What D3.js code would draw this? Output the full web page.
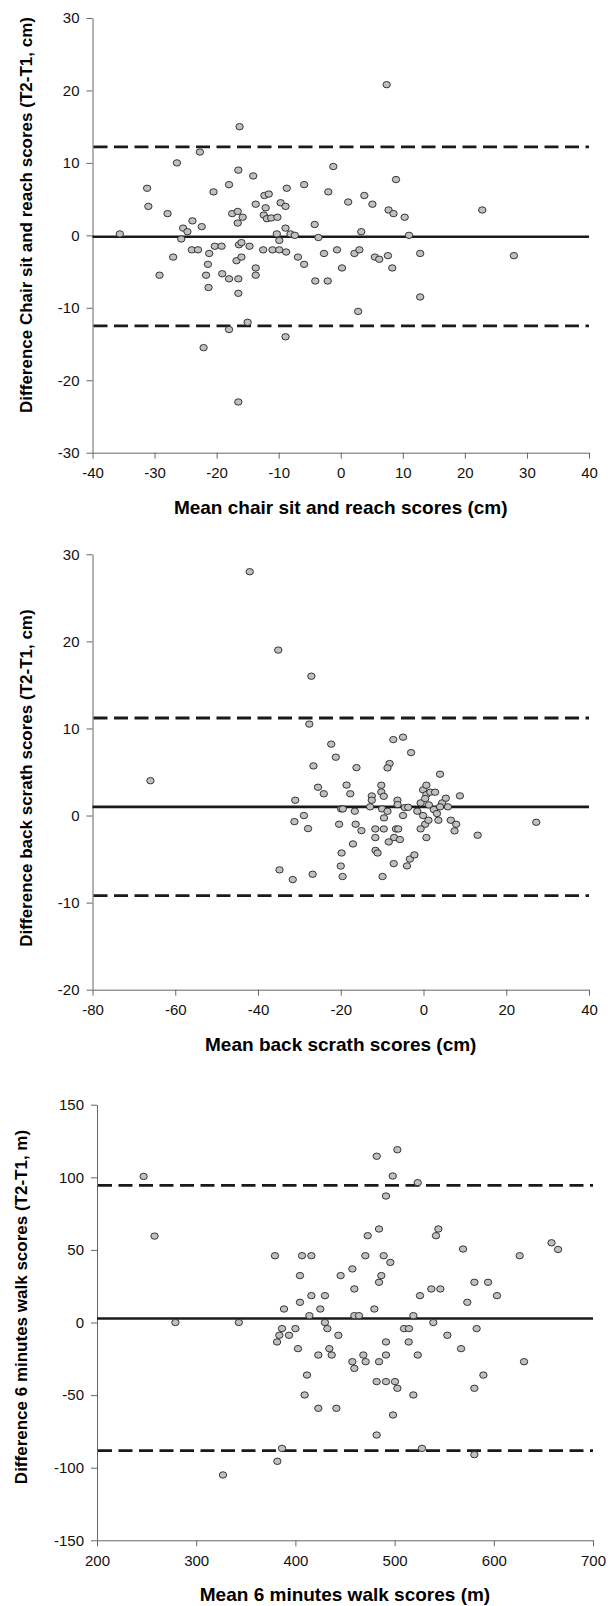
<!DOCTYPE html>
<html>
<head>
<meta charset="utf-8">
<script src="https://cdn.jsdelivr.net/npm/d3@7"></script>
<style>
  body { margin: 0; background: #fff; }
  svg { display: block; }
  .tick text { font-family: "Liberation Sans", Arial, sans-serif; font-size: 15px; fill: #111; }
  .title { font-family: "Liberation Sans", Arial, sans-serif; font-weight: bold; fill: #000; }
</style>
</head>
<body>
<div class="chart"></div>
<script>
// chair sit and reach: [mean, difference]
const chairPoints = [
  [-35.6, 0.2], [-22.7, 11.5], [-26.4, 10.0], [-31.2, 6.5], [-31.0, 4.0], [-27.9, 3.0],
  [-23.9, 2.0], [-25.4, 1.0], [-24.7, 0.5], [-25.7, -0.5], [-22.4, 1.2], [-27.0, -3.0],
  [-29.2, -5.5], [-24.0, -2.0], [-23.0, -2.0], [-21.2, -2.5], [-21.4, -4.0], [-21.7, -5.5],
  [-21.3, -7.2], [-20.3, -1.5], [-19.2, -1.5], [-20.5, 6.0], [-18.0, 7.0], [-19.1, -5.3],
  [-18.0, -6.0], [-16.5, -6.0], [-16.5, -8.0], [-16.8, -3.5], [-16.0, -3.0], [-16.4, -1.3],
  [-16.0, -1.0], [-14.7, -1.5], [-16.5, 9.0], [-14.1, 8.2], [-17.5, 3.0], [-16.6, 3.3],
  [-15.8, 2.5], [-16.6, 1.7], [-13.7, 4.3], [-13.7, -4.5], [-13.7, -5.5], [-12.3, 5.5],
  [-11.6, 5.7], [-12.1, 3.8], [-12.4, 2.8], [-11.9, 2.3], [-11.2, 2.4], [-10.2, 2.5],
  [-12.5, -2.0], [-11.0, -2.0], [-9.9, -2.0], [-9.7, 4.5], [-8.9, 4.0], [-8.7, 6.5],
  [-10.3, 0.2], [-9.9, -0.7], [-8.9, 1.0], [-8.1, 0.2], [-7.4, 0.0], [-8.8, -2.3],
  [-6.9, -3.0], [-5.9, -4.0], [-5.9, 7.0], [-4.2, 1.5], [-3.6, -0.3], [-4.1, -6.3],
  [-2.7, -2.5], [-2.1, -6.3], [-2.0, 6.0], [-1.2, 9.5], [-0.6, -2.0], [0.2, -4.5],
  [1.2, 4.6], [3.8, 5.5], [5.1, 4.3], [8.9, 7.7], [7.7, 3.5], [8.5, 3.0], [10.3, 2.5],
  [22.8, 3.5], [3.3, 0.5], [11.0, 0.0], [2.2, -2.5], [3.0, -2.0], [5.5, -3.0], [6.2, -3.3],
  [7.6, -2.8], [12.8, -2.5], [27.9, -2.8], [8.3, -4.5], [12.8, -8.5], [2.8, -10.5],
  [-22.1, -15.5], [-18.0, -13.0], [-15.0, -12.0], [-8.9, -14.0], [-16.5, -23.0],
  [-16.3, 15.0], [7.4, 20.8]
];
const chairLines = { mean: -0.2, upper: 12.2, lower: -12.5 };

// back scratch: [mean, difference]
const backPoints = [
  [-66.0, 4.0], [-42.0, 28.0], [-35.1, 19.0], [-27.1, 16.0],
  [-27.6, 10.5], [-22.3, 8.2], [-21.2, 6.7], [-26.6, 5.7], [-16.2, 5.5], [-25.5, 3.25],
  [-24.1, 2.5], [-18.6, 3.5], [-17.7, 2.5], [-31.0, 1.76], [-28.9, 0.0], [-31.2, -0.7],
  [-27.9, -1.5], [-19.9, 0.76], [-19.5, 0.76], [-16.6, 0.5], [-20.4, -1.0], [-16.4, -1.0],
  [-15.0, -1.73], [-17.05, -3.26], [-19.8, -4.3], [-20.0, -5.8], [-19.55, -7.0],
  [-34.8, -6.24], [-31.6, -7.35], [-26.8, -6.74],
  [-12.5, 2.25], [-12.5, 1.76], [-12.9, 1.0], [-10.2, 3.48], [-10.2, 2.71], [-9.6, 2.21],
  [-10.0, 0.76], [-8.7, 0.49], [-9.55, -0.27], [-11.65, -1.54], [-9.6, -1.54],
  [-11.65, -2.53], [-6.65, -1.54], [-6.1, -1.54], [-7.1, -2.53], [-5.7, -2.76],
  [-8.4, -3.03], [-11.6, -4.0], [-11.1, -4.3], [-7.2, -5.52], [-9.9, -7.0], [-4.0, -5.78],
  [-3.3, -5.0], [-2.2, -4.52], [-6.3, 1.76], [-6.25, 1.26], [-4.95, 0.0], [-4.5, 0.91],
  [-3.7, 0.95], [-8.2, 5.97], [-8.7, 5.47], [-7.3, 8.72], [-4.95, 9.0], [-3.0, 7.23],
  [-1.5, 0.5], [-0.7, 1.45], [-0.1, 2.95], [0.7, 3.48], [0.7, 2.4], [0.4, 1.95],
  [1.65, 2.68], [2.8, 2.68], [1.3, 1.22], [2.5, 0.69], [3.25, 0.23], [3.6, -0.54],
  [4.5, 1.45], [5.4, 1.99], [4.0, 1.0], [5.9, 1.0], [8.8, 2.26], [4.0, 4.75],
  [6.6, -0.54], [7.9, -1.0], [7.5, -1.76], [13.1, -2.26], [27.25, -0.77], [-0.1, 0.0],
  [0.4, -1.0], [-0.7, -1.53], [0.7, -2.53], [1.2, -0.54]
];
const backLines = { mean: 1.0, upper: 11.2, lower: -9.2 };

// 6 minutes walk: [mean, difference]
const walkPoints = [
  [247, 100.6], [258, 59.5], [279, 0], [343, 0], [327, -105],
  [379.4, 46], [406.7, 46], [416.1, 46], [470.5, 46], [489.0, 46], [495.7, 41.4],
  [457.4, 36.9], [404.6, 32.3], [445.6, 32.3], [486.6, 32.3], [484.3, 27.7], [459.4, 23.1],
  [537.0, 23.1], [546.1, 23.1], [580.4, 27.7], [594.2, 27.7], [603.2, 18.5], [573.3, 13.9],
  [525.6, 18.5], [416.1, 18.5], [429.8, 18.5], [404.6, 13.9], [388.5, 9.3], [425.1, 9.3],
  [479.6, 9.3], [414.1, 4.7], [459.4, 4.7], [464.1, 4.7], [518.9, 4.7], [482.0, 114.5],
  [502.8, 119.0], [498.1, 100.9], [523.3, 96.3], [491.3, 87.1], [484.3, 64.4], [472.9, 59.8],
  [544.1, 64.4], [541.7, 59.8], [569.0, 50.6], [626.1, 46.0], [658.2, 54.9], [664.8, 50.3],
  [539.0, 0], [429.8, 0], [432.2, -4.2], [443.3, -8.8], [386.5, -4.2], [400.0, -4.2],
  [383.8, -8.8], [393.6, -8.8], [381.5, -13.4], [402.6, -18.0], [423.1, -22.4],
  [434.2, -18.0], [436.6, -22.4], [411.7, -36.2], [409.3, -49.9], [423.1, -59.1],
  [441.3, -59.1], [457.4, -27.0], [459.4, -31.6], [468.5, -22.4], [470.8, -27.0],
  [484.3, -27.0], [491.3, -22.4], [491.3, -13.4], [481.9, -40.7], [491.3, -40.7],
  [500.4, -40.7], [502.8, -45.3], [498.4, -63.7], [481.9, -77.5], [518.9, -49.9],
  [509.5, -4.2], [514.5, -4.2], [514.2, -13.4], [523.3, -22.4], [553.2, -8.8],
  [567.0, -18.0], [582.7, -4.2], [589.5, -36.2], [580.4, -45.3], [630.5, -27.0],
  [386.5, -86.7], [381.8, -95.6], [527.6, -86.7], [580.4, -91.0]
];
const walkLines = { mean: 2.8, upper: 94.5, lower: -88.2 };

const chairXTicks = [-40, -30, -20, -10, 0, 10, 20, 30, 40];
const chairYTicks = [-30, -20, -10, 0, 10, 20, 30];
const backXTicks = [-80, -60, -40, -20, 0, 20, 40];
const backYTicks = [-20, -10, 0, 10, 20, 30];
const walkXTicks = [200, 300, 400, 500, 600, 700];
const walkYTicks = [-150, -100, -50, 0, 50, 100, 150];

const panels = [
  { points: chairPoints, lines: chairLines, xTicks: chairXTicks, yTicks: chairYTicks,
    xTitle: "Mean chair sit and reach scores (cm)",
    yTitle: "Difference Chair sit and reach scores (T2-T1, cm)",
    left: 92.5, right: 589, top: 18, bottom: 452.7, yTitleX: 32, yTitleY: 215 },
  { points: backPoints, lines: backLines, xTicks: backXTicks, yTicks: backYTicks,
    xTitle: "Mean back scrath scores (cm)",
    yTitle: "Difference back scrath scores (T2-T1, cm)",
    left: 92.5, right: 589, top: 554.3, bottom: 989.7, yTitleX: 32, yTitleY: 778 },
  { points: walkPoints, lines: walkLines, xTicks: walkXTicks, yTicks: walkYTicks,
    xTitle: "Mean 6 minutes walk scores (m)",
    yTitle: "Difference 6 minutes walk scores (T2-T1, m)",
    left: 97, right: 593, top: 1104.7, bottom: 1540.3, yTitleX: 27, yTitleY: 1307 }
];

// plain hyphen for negatives, like the original
const fmt = (d) => String(d);

const svg = d3.select(".chart").append("svg")
  .attr("width", 608)
  .attr("height", 1606);

svg.append("rect").attr("width", 608).attr("height", 1606).attr("fill", "#fff");

panels.forEach((p) => {
  const x = d3.scaleLinear()
    .domain(d3.extent(p.xTicks))
    .range([p.left, p.right]);
  const y = d3.scaleLinear()
    .domain(d3.extent(p.yTicks))
    .range([p.bottom, p.top]);

  const g = svg.append("g");

  // axes
  const yAxis = g.append("g")
    .attr("transform", `translate(${p.left},0)`)
    .call(d3.axisLeft(y).tickValues(p.yTicks).tickFormat(fmt)
      .tickSize(6).tickSizeOuter(0).tickPadding(7));
  const xAxis = g.append("g")
    .attr("transform", `translate(0,${p.bottom})`)
    .call(d3.axisBottom(x).tickValues(p.xTicks).tickFormat(fmt)
      .tickSize(6).tickSizeOuter(0).tickPadding(9));

  [yAxis, xAxis].forEach((a) => {
    a.select(".domain").attr("stroke", "#666").attr("stroke-width", 1);
    a.selectAll(".tick line").attr("stroke", "#666");
  });

  // mean and limits of agreement
  g.append("line")
    .attr("x1", p.left).attr("x2", p.right)
    .attr("y1", y(p.lines.mean)).attr("y2", y(p.lines.mean))
    .attr("stroke", "#1a1a1a").attr("stroke-width", 2.6);

  [p.lines.upper, p.lines.lower].forEach((v) => {
    g.append("line")
      .attr("x1", p.left + 1).attr("x2", p.right)
      .attr("y1", y(v)).attr("y2", y(v))
      .attr("stroke", "#1a1a1a").attr("stroke-width", 2.8)
      .attr("stroke-dasharray", "14,6.5");
  });

  // points
  g.selectAll(".pt")
    .data(p.points)
    .enter()
    .append("ellipse")
    .attr("class", "pt")
    .attr("cx", (d) => x(d[0]))
    .attr("cy", (d) => y(d[1]))
    .attr("rx", 3.7)
    .attr("ry", 3.2)
    .attr("fill", "#c0c0c0")
    .attr("stroke", "#222")
    .attr("stroke-width", 0.9);

  // titles
  g.append("text")
    .attr("class", "title")
    .attr("x", (p.left + p.right) / 2)
    .attr("y", p.bottom + 61)
    .attr("text-anchor", "middle")
    .style("font-size", "19px")
    .text(p.xTitle);

  g.append("text")
    .attr("class", "title")
    .attr("transform", `translate(${p.yTitleX},${p.yTitleY}) rotate(-90)`)
    .attr("text-anchor", "middle")
    .style("font-size", "17px")
    .text(p.yTitle);
});
</script>
</body>
</html>
